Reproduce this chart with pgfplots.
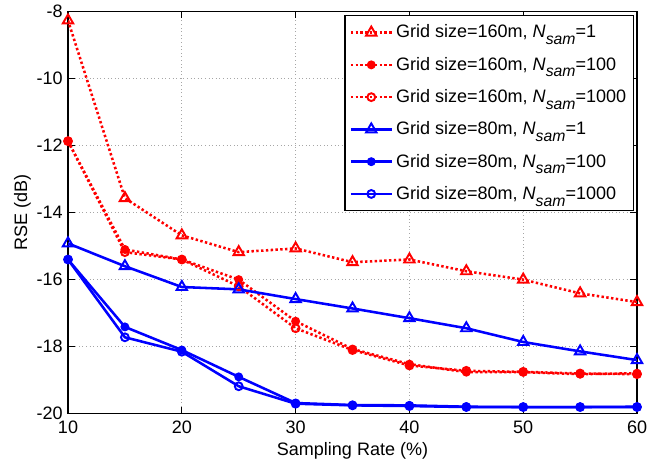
\documentclass[border=0pt]{standalone}
\usepackage{fontspec}
\setmainfont{Liberation Sans}
\usepackage{pgfplots}
\pgfplotsset{compat=1.18}
\newcommand{\Ns}{\textit{N}\raisebox{-0.7ex}{\fontsize{10.5}{11}\selectfont\itshape sam}}
\begin{document}
\begin{tikzpicture}
\begin{axis}[
  scale only axis,
  width=379pt, height=268pt,
  xmin=10, xmax=60, ymin=-20, ymax=-8,
  xtick={10,20,...,60}, ytick={-20,-18,...,-8},
  tick align=inside, tick pos=both,
  major tick length=4.5pt,
  grid=major,
  major grid style={gray!70, dotted, line width=0.6pt},
  axis line style={line width=0.9pt},
  every tick/.style={black, line width=0.7pt},
  font=\fontsize{12}{14}\selectfont,
  /pgf/number format/assume math mode=true,
  xticklabel style={yshift=-1pt},
  xlabel={Sampling Rate (\%)},
  ylabel={RSE (dB)},
  xlabel style={yshift=0.5pt},
  ylabel style={yshift=-3pt},
  legend style={at={(0.995,0.99)}, anchor=north east, draw=black, line width=0.7pt,
    font=\fontsize{12}{14}\selectfont, row sep=7.3pt, inner xsep=3pt, inner ysep=4pt},
  legend cell align=left,
  legend image code/.code={
    \draw[mark repeat=2,mark phase=2] plot coordinates {(0cm,0cm)(0.48cm,0cm)(0.96cm,0cm)};
  },
  red160/.style={red, line width=1.7pt, dash pattern=on 1.6pt off 1.6pt, mark options={solid, line width=1.3pt}},
  blue80/.style={blue, line width=1.7pt, mark options={solid, line width=1.3pt}},
]
\addplot[red160, mark=triangle, mark size=4pt] coordinates {
(10,-8.27) (15,-13.57) (20,-14.68) (25,-15.18) (30,-15.07) (35,-15.48) (40,-15.4) (45,-15.75) (50,-16.0) (55,-16.41) (60,-16.67)};
\addlegendentry{Grid size=160m, \Ns=1}
\addplot[red160, mark=*, mark size=2.3pt] coordinates {
(10,-11.87) (15,-15.1) (20,-15.4) (25,-16.0) (30,-17.24) (35,-18.07) (40,-18.52) (45,-18.76) (50,-18.76) (55,-18.82) (60,-18.79)};
\addlegendentry{Grid size=160m, \Ns=100}
\addplot[red160, mark=o, mark size=2.6pt] coordinates {
(10,-11.87) (15,-15.18) (20,-15.4) (25,-16.2) (30,-17.45) (35,-18.1) (40,-18.56) (45,-18.72) (50,-18.75) (55,-18.8) (60,-18.82)};
\addlegendentry{Grid size=160m, \Ns=1000}
\addplot[blue80, mark=triangle, mark size=4pt] coordinates {
(10,-14.92) (15,-15.6) (20,-16.22) (25,-16.29) (30,-16.58) (35,-16.86) (40,-17.15) (45,-17.45) (50,-17.86) (55,-18.14) (60,-18.4)};
\addlegendentry{Grid size=80m, \Ns=1}
\addplot[blue80, mark=*, mark size=2.3pt] coordinates {
(10,-15.4) (15,-17.41) (20,-18.1) (25,-18.9) (30,-19.68) (35,-19.74) (40,-19.75) (45,-19.79) (50,-19.8) (55,-19.8) (60,-19.79)};
\addlegendentry{Grid size=80m, \Ns=100}
\addplot[blue80, mark=o, mark size=2.6pt] coordinates {
(10,-15.4) (15,-17.72) (20,-18.15) (25,-19.18) (30,-19.7) (35,-19.75) (40,-19.77) (45,-19.8) (50,-19.8) (55,-19.8) (60,-19.8)};
\addlegendentry{Grid size=80m, \Ns=1000}
\end{axis}
\path (current axis.south west) ++(-45.3pt,-32.7pt) (current axis.north east) ++(19.3pt,7.3pt);
\end{tikzpicture}
\end{document}
